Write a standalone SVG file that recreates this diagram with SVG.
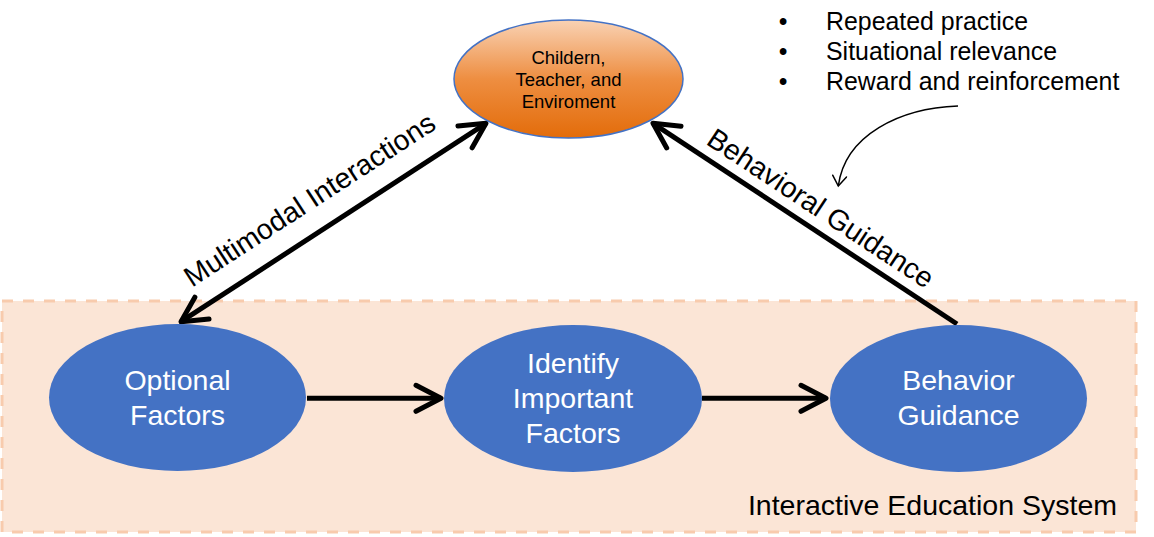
<svg xmlns="http://www.w3.org/2000/svg" width="1154" height="537" viewBox="0 0 1154 537">
  <style>
    text { font-family: "Liberation Sans", Arial, sans-serif; }
    .node-blue { fill: #4472C4; }
    .wt { fill: #FFFFFF; font-size: 28.5px; text-anchor: middle; }
    .bt { fill: #000000; }
    .li { font-size: 24.9px; }
    .conn { stroke: #000; stroke-width: 5; fill: none; }
  </style>
  <defs>
    <linearGradient id="og" x1="0" y1="0" x2="0" y2="1">
      <stop offset="0" stop-color="#F9D2B4"/>
      <stop offset="0.5" stop-color="#EE8E41"/>
      <stop offset="1" stop-color="#E36C0A"/>
    </linearGradient>
    <marker id="chev" viewBox="-30 -16 34 32" refX="0" refY="0" markerWidth="34" markerHeight="32" markerUnits="userSpaceOnUse" orient="auto-start-reverse">
      <path d="M-25,-13 L0,0 L-25,13" fill="none" stroke="#000" stroke-width="5" stroke-linecap="round" stroke-linejoin="round"/>
    </marker>
    <marker id="thin" viewBox="-12 -8 14 16" refX="0" refY="0" markerWidth="14" markerHeight="16" markerUnits="userSpaceOnUse" orient="auto">
      <path d="M-10,-7 L0,0 L-10,7" fill="none" stroke="#000" stroke-width="1.5" stroke-linecap="round"/>
    </marker>
  </defs>

  <g id="system">
    <rect x="2" y="301" width="1134" height="231" fill="#FBE5D6" stroke="#F8CBAD" stroke-width="3" stroke-dasharray="11 10"/>
    <text class="bt" x="1117" y="515" font-size="28.5" text-anchor="end">Interactive Education System</text>
  </g>

  <g id="connectors">
    <line class="conn" x1="181" y1="321.7" x2="486" y2="123.3" marker-start="url(#chev)" marker-end="url(#chev)"/>
    <line class="conn" x1="957" y1="324" x2="653" y2="123.3" marker-end="url(#chev)"/>
    <line class="conn" x1="307" y1="398.3" x2="441" y2="398.3" marker-end="url(#chev)"/>
    <line class="conn" x1="702" y1="398.3" x2="826" y2="398.3" marker-end="url(#chev)"/>
    <path d="M958,106 C900,108 845,135 838.3,186" fill="none" stroke="#000" stroke-width="1.5" marker-end="url(#thin)"/>
    <text class="bt" font-size="28.5" text-anchor="middle" transform="translate(314.8,207.8) rotate(-33.04)">Multimodal Interactions</text>
    <text class="bt" font-size="28.5" text-anchor="middle" transform="translate(815.4,216.3) rotate(33.44)">Behavioral Guidance</text>
  </g>

  <g id="factors-list">
    <text class="bt li" x="783" y="30" text-anchor="middle">•</text>
    <text class="bt li" x="783" y="60" text-anchor="middle">•</text>
    <text class="bt li" x="783" y="90" text-anchor="middle">•</text>
    <text class="bt li" x="826" y="30">Repeated practice</text>
    <text class="bt li" x="826" y="60">Situational relevance</text>
    <text class="bt li" x="826" y="90">Reward and reinforcement</text>
  </g>

  <g id="node-env">
    <ellipse cx="568.5" cy="79" rx="114.5" ry="59" fill="url(#og)" stroke="#4472C4" stroke-width="1.5"/>
    <text class="bt" font-size="18.5" text-anchor="middle" x="568.5" y="64">Childern,</text>
    <text class="bt" font-size="18.5" text-anchor="middle" x="568.5" y="86">Teacher, and</text>
    <text class="bt" font-size="18.5" text-anchor="middle" x="568.5" y="108">Enviroment</text>
  </g>

  <g id="node-optional">
    <ellipse class="node-blue" cx="177.5" cy="397.5" rx="128.5" ry="73.5"/>
    <text class="wt" x="177.5" y="390">Optional</text>
    <text class="wt" x="177.5" y="425">Factors</text>
  </g>

  <g id="node-identify">
    <ellipse class="node-blue" cx="573" cy="398.5" rx="129" ry="73.5"/>
    <text class="wt" x="573" y="373">Identify</text>
    <text class="wt" x="573" y="408">Important</text>
    <text class="wt" x="573" y="443">Factors</text>
  </g>

  <g id="node-behavior">
    <ellipse class="node-blue" cx="958.5" cy="398.5" rx="128.5" ry="73.5"/>
    <text class="wt" x="958.5" y="390">Behavior</text>
    <text class="wt" x="958.5" y="425">Guidance</text>
  </g>
</svg>
